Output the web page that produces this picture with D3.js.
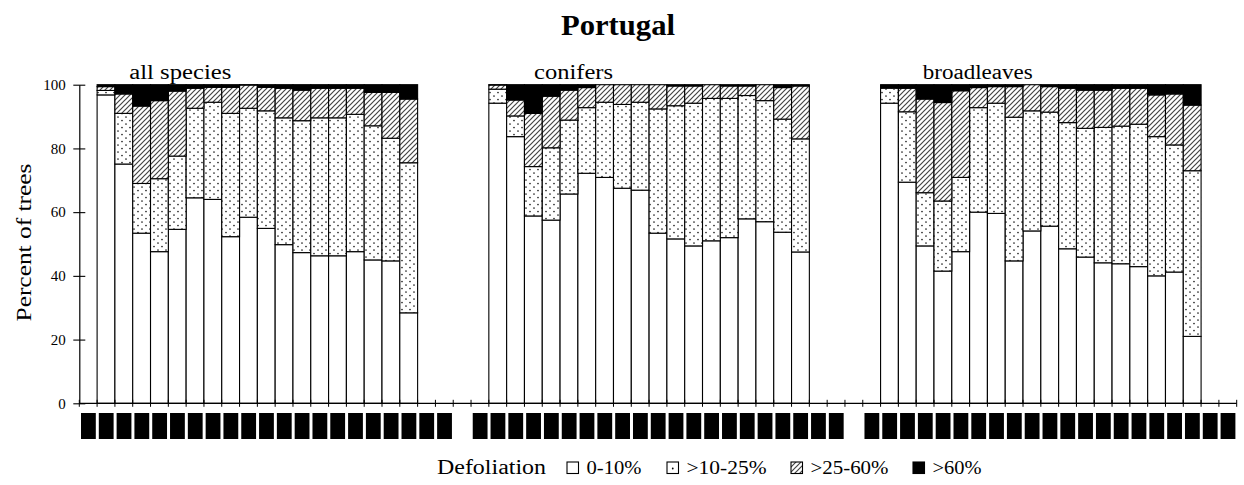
<!DOCTYPE html>
<html>
<head>
<meta charset="utf-8">
<script src="https://cdn.jsdelivr.net/npm/d3@7"></script>
<style>
body { margin: 0; background: #fff; }
text { font-family: "Liberation Serif", "Times New Roman", serif; }
</style>
</head>
<body>
<div id="chart"></div>
<script>

// axis labels (years), one group of 21 per panel
var years = ["1986", "1987", "1988", "1989", "1990", "1991", "1992", "1993", "1994", "1995", "1996",
    "1997", "1998", "1999", "2000", "2001", "2002", "2003", "2004", "2005", "2006"];
var barYears = years.slice(1, 19);

var groups = ["all species", "conifers", "broadleaves"];
var classes = ["0-10%", ">10-25%", ">25-60%", ">60%"];

// percent of trees per defoliation class
var allSpecies0to10  = [96.8, 75.1, 53.4, 47.6, 54.6, 64.5, 64.0, 52.3, 58.4, 54.9, 49.8, 47.3, 46.3, 46.3, 47.6, 45.0, 44.7, 28.4];
var allSpecies10to25 = [1.4, 15.9, 15.6, 22.9, 23.0, 28.1, 30.5, 38.7, 34.2, 36.9, 39.8, 41.4, 43.3, 43.3, 43.1, 42.1, 38.5, 47.1];
var allSpecies25to60 = [1.2, 6.1, 24.3, 24.5, 20.4, 6.3, 4.7, 8.2, 7.3, 7.4, 9.3, 9.6, 9.3, 9.3, 8.2, 10.5, 14.4, 20.0];
var allSpeciesOver60 = [0.6, 2.9, 6.7, 5.0, 2.0, 1.1, 0.8, 0.8, 0.1, 0.8, 1.1, 1.7, 1.1, 1.1, 1.1, 2.4, 2.4, 4.5];

var conifers0to10  = [94.2, 83.7, 58.8, 57.5, 65.7, 72.2, 70.9, 67.5, 66.9, 53.4, 51.6, 49.4, 51.0, 52.0, 57.9, 57.0, 53.7, 47.5];
var conifers10to25 = [4.4, 6.5, 15.5, 22.7, 23.2, 20.6, 23.6, 26.3, 27.6, 39.0, 41.8, 44.8, 44.7, 43.7, 38.7, 38.0, 35.5, 35.5];
var conifers25to60 = [1.3, 5.0, 16.7, 16.2, 9.4, 6.3, 5.5, 6.2, 5.5, 7.6, 6.2, 5.4, 4.3, 3.9, 3.0, 5.0, 9.9, 16.6];
var conifersOver60 = [0.1, 4.8, 9.0, 3.6, 1.7, 0.9, 0, 0, 0, 0, 0.4, 0.4, 0, 0.4, 0.4, 0, 0.9, 0.4];

var broadleaves0to10  = [94.2, 69.4, 49.4, 41.5, 47.6, 60.0, 59.6, 44.7, 54.1, 55.6, 48.5, 45.9, 44.1, 43.8, 42.9, 40.0, 41.2, 21.0];
var broadleaves10to25 = [4.7, 22.1, 16.7, 22.0, 23.3, 32.8, 34.6, 45.1, 37.7, 35.8, 39.6, 40.4, 42.5, 43.2, 44.7, 43.7, 39.9, 52.0];
var broadleaves25to60 = [0.3, 7.4, 29.4, 30.9, 27.2, 6.3, 5.2, 9.6, 8.2, 8.0, 10.8, 12.0, 11.7, 11.9, 11.3, 13.1, 16.0, 20.6];
var broadleavesOver60 = [0.8, 1.1, 4.5, 5.6, 1.9, 0.9, 0.6, 0.6, 0, 0.6, 1.1, 1.7, 1.7, 1.1, 1.1, 3.2, 2.9, 6.4];

var yTicks = [0, 20, 40, 60, 80, 100];

var groupData = [
    [allSpecies0to10, allSpecies10to25, allSpecies25to60, allSpeciesOver60],
    [conifers0to10, conifers10to25, conifers25to60, conifersOver60],
    [broadleaves0to10, broadleaves10to25, broadleaves25to60, broadleavesOver60]
];

var width = 1244, height = 485;
var serif = "Liberation Serif";

var svg = d3.select("#chart").append("svg")
    .attr("width", width)
    .attr("height", height);

// fill patterns
var defs = svg.append("defs");
var dots = defs.append("pattern").attr("id", "dots")
    .attr("patternUnits", "userSpaceOnUse").attr("width", 8).attr("height", 7);
dots.append("rect").attr("width", 8).attr("height", 7).attr("fill", "#fff");
dots.append("circle").attr("cx", 2).attr("cy", 1.5).attr("r", 0.85).attr("fill", "#222");
dots.append("circle").attr("cx", 6).attr("cy", 5).attr("r", 0.85).attr("fill", "#222");

var hatch = defs.append("pattern").attr("id", "hatch")
    .attr("patternUnits", "userSpaceOnUse").attr("width", 5).attr("height", 5);
hatch.append("rect").attr("width", 5).attr("height", 5).attr("fill", "#fff");
hatch.append("path").attr("d", "M-1,1 l2,-2 M0,5 l5,-5 M4,6 l2,-2")
    .attr("stroke", "#444").attr("stroke-width", 1.2);

var fills = ["#fff", "url(#dots)", "url(#hatch)", "#000"];

// one band per year per panel, plus a blank band between panels
var slots = [];
groups.forEach(function(g, gi) {
    years.forEach(function(yr) { slots.push({ key: gi + "-" + yr, group: gi, year: yr }); });
    if (gi < groups.length - 1) slots.push({ key: "sep" + gi, group: gi, year: null });
});

var x = d3.scaleBand()
    .domain(slots.map(function(d) { return d.key; }))
    .range([79.3, 1236.7])
    .padding(0);

var y = d3.scaleLinear().domain([0, 100]).range([403.3, 84.7]);

// rows for stacking
var rows = [];
groupData.forEach(function(series, gi) {
    barYears.forEach(function(yr, i) {
        rows.push({ key: gi + "-" + yr, c0: series[0][i], c1: series[1][i], c2: series[2][i], c3: series[3][i] });
    });
});

var stacked = d3.stack().keys(["c0", "c1", "c2", "c3"])(rows);

svg.selectAll("g.layer")
    .data(stacked)
    .enter().append("g")
    .attr("class", "layer")
    .attr("fill", function(d, i) { return fills[i]; })
    .selectAll("rect")
    .data(function(d) { return d.filter(function(s) { return s[1] - s[0] > 0; }); })
    .enter().append("rect")
    .attr("x", function(d) { return x(d.data.key); })
    .attr("width", x.bandwidth())
    .attr("y", function(d) { return y(d[1]); })
    .attr("height", function(d) { return y(d[0]) - y(d[1]); })
    .attr("stroke", "#000")
    .attr("stroke-width", 1.1);

// x axis: line with crossing ticks at every band edge
var xAxis = svg.append("g");
xAxis.append("line")
    .attr("x1", x.range()[0]).attr("x2", x.range()[1])
    .attr("y1", y(0)).attr("y2", y(0))
    .attr("stroke", "#000").attr("stroke-width", 1.2);
var edges = x.domain().map(function(k) { return x(k); }).concat([x.range()[1]]);
xAxis.selectAll("line.tick")
    .data(edges)
    .enter().append("line")
    .attr("class", "tick")
    .attr("x1", function(d) { return d; }).attr("x2", function(d) { return d; })
    .attr("y1", y(0) - 3.5).attr("y2", y(0) + 3.5)
    .attr("stroke", "#000").attr("stroke-width", 1);

// year labels (shown as solid blocks)
var labelSlots = slots.filter(function(d) { return d.year !== null; });
var labels = svg.append("g");
labels.selectAll("rect")
    .data(labelSlots)
    .enter().append("rect")
    .attr("x", function(d) { return x(d.key) + 1.7; })
    .attr("y", 413)
    .attr("width", x.bandwidth() - 3)
    .attr("height", 26)
    .attr("fill", "#000");
labels.selectAll("text")
    .data(labelSlots)
    .enter().append("text")
    .attr("transform", function(d) {
        return "translate(" + (x(d.key) + x.bandwidth() / 2 + 4) + ",426) rotate(-90)";
    })
    .attr("text-anchor", "middle")
    .attr("font-family", serif)
    .attr("font-size", 13)
    .attr("fill", "#000")
    .text(function(d) { return d.year; });

// y axis
var yAxis = svg.append("g")
    .attr("transform", "translate(79.3,0)")
    .call(d3.axisLeft(y).tickValues(yTicks).tickSize(6).tickSizeOuter(0).tickPadding(7.6));
yAxis.attr("font-family", serif).attr("font-size", 15);
yAxis.selectAll(".tick text").attr("font-family", serif);
yAxis.selectAll(".tick line").attr("x1", 6).attr("stroke-width", 1.1);
yAxis.select(".domain").attr("stroke-width", 1.2);

// titles
svg.append("text")
    .attr("x", 618).attr("y", 35)
    .attr("text-anchor", "middle")
    .attr("font-family", serif)
    .attr("font-size", 29)
    .attr("font-weight", "bold")
    .attr("textLength", 114).attr("lengthAdjust", "spacingAndGlyphs")
    .text("Portugal");

var groupLabelOffset = [50, 63, 60];
var groupLabelWidth = [102, 79, 110];
svg.selectAll("text.group")
    .data(groups)
    .enter().append("text")
    .attr("class", "group")
    .attr("x", function(d, i) { return x(i + "-" + years[0]) + groupLabelOffset[i]; })
    .attr("y", 79)
    .attr("font-family", serif)
    .attr("font-size", 20)
    .attr("textLength", function(d, i) { return groupLabelWidth[i]; })
    .attr("lengthAdjust", "spacingAndGlyphs")
    .text(function(d) { return d; });

svg.append("text")
    .attr("transform", "translate(31,242.5) rotate(-90)")
    .attr("text-anchor", "middle")
    .attr("font-family", serif)
    .attr("font-size", 21)
    .attr("textLength", 158).attr("lengthAdjust", "spacingAndGlyphs")
    .text("Percent of trees");

// legend
var legend = svg.append("g");
legend.append("text")
    .attr("x", 437).attr("y", 474)
    .attr("font-family", serif)
    .attr("font-size", 20)
    .attr("textLength", 109).attr("lengthAdjust", "spacingAndGlyphs")
    .text("Defoliation");

var legendX = [567, 667, 791, 913];
var legendTextWidth = [55, 80, 78, 49];
var items = legend.selectAll("g.item")
    .data(classes)
    .enter().append("g")
    .attr("class", "item")
    .attr("transform", function(d, i) { return "translate(" + legendX[i] + ",462)"; });
items.append("rect")
    .attr("width", 11.5).attr("height", 11.5)
    .attr("fill", function(d, i) { return i === 1 ? "#fff" : fills[i]; })
    .attr("stroke", "#000").attr("stroke-width", 1.1);
items.filter(function(d, i) { return i === 1; })
    .append("circle")
    .attr("cx", 5.75).attr("cy", 6.5).attr("r", 0.9).attr("fill", "#000");
items.append("text")
    .attr("x", 19.5).attr("y", 12)
    .attr("font-family", serif)
    .attr("font-size", 18)
    .attr("textLength", function(d, i) { return legendTextWidth[i]; })
    .attr("lengthAdjust", "spacingAndGlyphs")
    .text(function(d) { return d; });

</script>
</body>
</html>
